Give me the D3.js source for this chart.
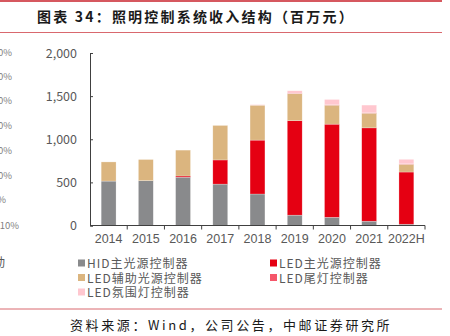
<!DOCTYPE html>
<html>
<head>
<meta charset="utf-8">
<script src="https://cdn.jsdelivr.net/npm/d3@7"></script>
<style>
  html, body { margin: 0; padding: 0; background: #fff; }
  svg { display: block; font-family: "Noto Sans CJK SC", "Liberation Sans", sans-serif; }
</style>
</head>
<body>
<div id="chart"></div>
<script>
// 年份
var years = ['2014', '2015', '2016', '2017', '2018', '2019', '2020', '2021', '2022H'];
// 各类控制器收入（百万元）
var hidMain = [515, 520, 560, 480, 365, 120, 95, 50, 15];
var ledMain = [0, 0, 14, 280, 625, 1095, 1080, 1082, 605];
var ledAux = [222, 245, 300, 400, 405, 315, 220, 170, 90];
var ledTail = [0, 0, 0, 0, 0, 4, 4, 4, 5];
var ledAmbient = [0, 0, 0, 0, 6, 28, 62, 90, 52];
// 系列名和颜色
var seriesNames = ['HID主光源控制器', 'LED主光源控制器', 'LED辅助光源控制器', 'LED尾灯控制器', 'LED氛围灯控制器'];
var seriesKeys = ['hid', 'ledMain', 'ledAux', 'ledTail', 'ledAmbient'];
var seriesColor = ['#898a8c', '#e50012', '#dbb57f', '#f5566a', '#ffc7cf'];
var yTicks = [0, 500, 1000, 1500, 2000];
// 左边被裁掉的图的残留文字
var leftCut = [['0%', 53], ['0%', 77], ['0%', 101], ['0%', 126], ['0%', 151], ['0%', 176], ['%', 200], ['10%', 226]];

var width = 450, height = 336;
var svg = d3.select('#chart').append('svg')
    .attr('width', width)
    .attr('height', height);

// 表格数据
var table = years.map(function(y, i) {
    return { year: y, hid: hidMain[i], ledMain: ledMain[i], ledAux: ledAux[i], ledTail: ledTail[i], ledAmbient: ledAmbient[i] };
});

// 顶部和标题
svg.append('line').attr('x1', 0).attr('x2', 442).attr('y1', 1).attr('y2', 1)
    .attr('stroke', '#c8202a').attr('stroke-width', 1.5);
svg.append('text')
    .attr('x', 37).attr('y', 22)
    .style('font-size', '14px').style('font-weight', 'bold')
    .style('letter-spacing', '2.2px')
    .attr('fill', '#1a1a1a')
    .text('图表 34：照明控制系统收入结构（百万元）');
svg.append('line').attr('x1', 0).attr('x2', 442).attr('y1', 32.5).attr('y2', 32.5)
    .attr('stroke', '#d9686e').attr('stroke-width', 1);

// 比例尺
var x = d3.scaleBand().domain(years).range([90, 425]).paddingInner(0.6).paddingOuter(0.3);
var y = d3.scaleLinear().domain([0, 2000]).range([225.5, 53]);

// 堆叠柱子
var stack = d3.stack().keys(seriesKeys);
var layers = stack(table);
var barG = svg.append('g');
barG.selectAll('g')
    .data(layers)
    .enter()
    .append('g')
    .attr('fill', function(d, i) { return seriesColor[i]; })
    .selectAll('rect')
    .data(function(d) { return d; })
    .enter()
    .append('rect')
    .attr('x', function(d) { return x(d.data.year); })
    .attr('width', x.bandwidth())
    .attr('y', function(d) { return y(d[1]); })
    .attr('height', function(d) { return Math.max(0, y(d[0]) - y(d[1])); })
    .attr('stroke', '#fff')
    .attr('stroke-opacity', 0.5)
    .attr('stroke-width', 0.5);

// y轴
var yAxis = d3.axisLeft(y).tickValues(yTicks).tickSize(-3).tickPadding(13)
    .tickFormat(d3.format(','));
var yG = svg.append('g').attr('transform', 'translate(90,0)').call(yAxis);
yG.select('.domain').attr('stroke', '#404040');
yG.selectAll('.tick line').attr('stroke', '#404040');
yG.selectAll('.tick text').attr('fill', '#595959').style('font-size', '12.5px')
    .style('font-family', '"Noto Sans CJK SC", sans-serif');

// x轴
var xAxis = d3.axisBottom(x).tickSize(0).tickPadding(9);
var xG = svg.append('g').attr('transform', 'translate(0,225.5)').call(xAxis);
xG.select('.domain').attr('stroke', '#404040').attr('d', 'M90,0H425');
xG.selectAll('.tick text').attr('fill', '#595959').style('font-size', '12.5px')
    .style('font-family', '"Liberation Sans", sans-serif');
// 分类之间的刻度
var bounds = years.map(function(d) { return x(d) - x.step() * x.paddingOuter() + x.step(); });
xG.selectAll('.bound')
    .data(bounds)
    .enter()
    .append('line')
    .attr('class', 'bound')
    .attr('x1', function(d) { return d; })
    .attr('x2', function(d) { return d; })
    .attr('y1', 0).attr('y2', 4)
    .attr('stroke', '#404040');

// 图例
var legendPos = [[78, 264], [270, 264], [78, 278.5], [270, 278.5], [78, 293]];
var legend = svg.append('g').selectAll('g')
    .data(seriesNames)
    .enter()
    .append('g')
    .attr('transform', function(d, i) { return 'translate(' + legendPos[i][0] + ',' + legendPos[i][1] + ')'; });
legend.append('rect')
    .attr('x', 0).attr('y', -4.5).attr('width', 7).attr('height', 7)
    .attr('fill', function(d, i) { return seriesColor[i]; });
legend.append('text')
    .attr('x', 9).attr('y', 0).attr('dy', '0.35em')
    .attr('fill', '#595959')
    .style('font-size', '12px')
    .style('letter-spacing', '1px')
    .text(function(d) { return d; });

// 左边残留
svg.append('g').selectAll('text')
    .data(leftCut)
    .enter()
    .append('text')
    .attr('x', function(d) { return d[0] == '10%' ? 19 : (d[0] == '%' ? 6 : 12); })
    .attr('y', function(d) { return d[1]; })
    .attr('dy', '0.35em')
    .attr('text-anchor', 'end')
    .attr('fill', '#7f7f7f')
    .style('font-size', '9.5px')
    .text(function(d) { return d[0]; });
svg.append('text').attr('x', -7).attr('y', 263).attr('dy', '0.35em')
    .attr('fill', '#595959').style('font-size', '12px').text('动');

// 底部来源
svg.append('line').attr('x1', 0).attr('x2', 442).attr('y1', 309).attr('y2', 309)
    .attr('stroke', '#d9686e').attr('stroke-width', 1);
svg.append('text')
    .attr('x', 70).attr('y', 330)
    .attr('fill', '#1a1a1a')
    .style('font-size', '13px')
    .style('letter-spacing', '2.6px')
    .text('资料来源：Wind，公司公告，中邮证券研究所');
</script>
</body>
</html>
